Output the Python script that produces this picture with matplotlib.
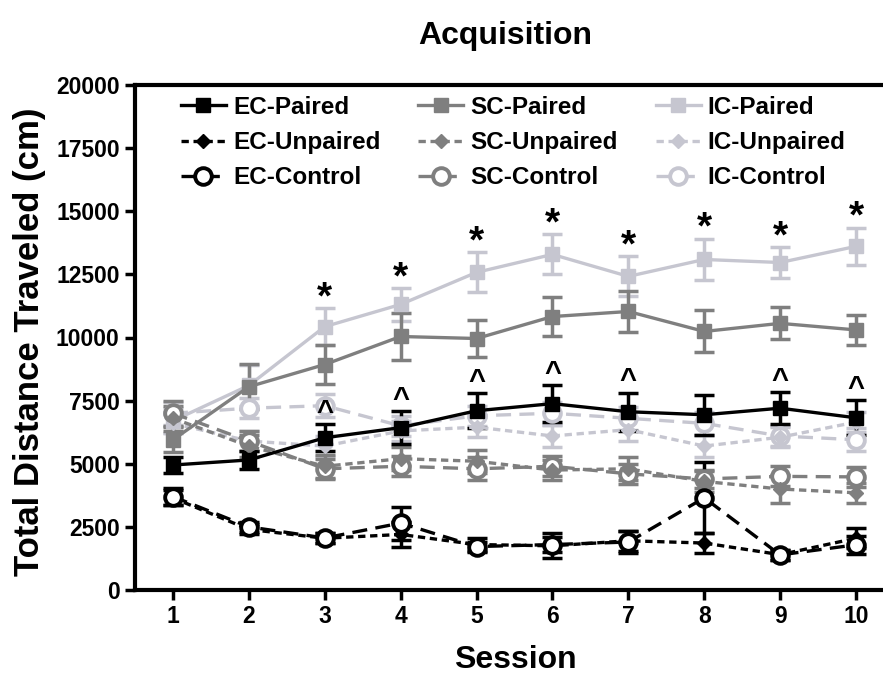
import matplotlib

matplotlib.use("Agg")
import matplotlib.pyplot as plt

plt.rcParams["font.family"] = ["Liberation Sans", "DejaVu Sans"]
plt.rcParams["font.weight"] = "bold"

sessions = [1, 2, 3, 4, 5, 6, 7, 8, 9, 10]

# means (cm) and SEM
ec_paired = [4950, 5150, 6030, 6430, 7100, 7380, 7060, 6940, 7200, 6820]
ec_paired_err = [300, 350, 530, 660, 690, 730, 760, 790, 630, 690]
ec_unpaired = [3650, 2400, 2050, 2200, 1800, 1750, 1950, 1860, 1400, 2050]
ec_unpaired_err = [300, 200, 200, 500, 250, 500, 400, 400, 200, 400]
ec_control = [3700, 2500, 2060, 2650, 1720, 1800, 1900, 3650, 1390, 1790]
ec_control_err = [350, 200, 200, 650, 200, 300, 450, 1400, 200, 350]

sc_paired = [5950, 8050, 8930, 10040, 9960, 10830, 11030, 10240, 10560, 10300]
sc_paired_err = [500, 890, 760, 930, 730, 790, 830, 830, 630, 600]
sc_unpaired = [6800, 5700, 4900, 5200, 5100, 4750, 4800, 4300, 4000, 3850]
sc_unpaired_err = [500, 450, 450, 450, 450, 400, 450, 400, 550, 400]
sc_control = [7000, 5900, 4800, 4900, 4800, 4900, 4600, 4400, 4500, 4480]
sc_control_err = [500, 400, 400, 400, 450, 400, 400, 350, 400, 400]

ic_paired = [6700, 8100, 10430, 11310, 12580, 13290, 12420, 13090, 12970, 13610]
ic_paired_err = [500, 800, 730, 640, 790, 790, 790, 830, 600, 730]
ic_unpaired = [6600, 5900, 5700, 6300, 6450, 6100, 6350, 5700, 6050, 6650]
ic_unpaired_err = [400, 400, 400, 400, 400, 450, 450, 450, 400, 400]
ic_control = [7000, 7200, 7300, 6500, 6900, 7000, 6800, 6600, 6100, 5950]
ic_control_err = [450, 400, 450, 400, 400, 450, 450, 450, 400, 450]

star_sessions = [3, 4, 5, 6, 7, 8, 9, 10]
caret_sessions = [3, 4, 5, 6, 7, 9, 10]

BLACK = "black"
MID = "#7f7f7f"
LIGHT = "#c6c6d0"

unpaired_ls = (0, (2.2, 1.4))
control_ls = (0, (4.5, 2.5))

fig = plt.figure(figsize=(8.83, 6.81), dpi=100)
ax = fig.add_axes([135 / 883, 91 / 681, 748 / 883, 505 / 681])

series = [
    # label, values, errors, colour, linestyle, marker, markersize, filled
    ("IC-Control", ic_control, ic_control_err, LIGHT, control_ls, "o", 12, False),
    ("IC-Unpaired", ic_unpaired, ic_unpaired_err, LIGHT, unpaired_ls, "D", 7, True),
    ("IC-Paired", ic_paired, ic_paired_err, LIGHT, "-", "s", 10, True),
    ("SC-Control", sc_control, sc_control_err, MID, control_ls, "o", 12, False),
    ("SC-Unpaired", sc_unpaired, sc_unpaired_err, MID, unpaired_ls, "D", 7, True),
    ("SC-Paired", sc_paired, sc_paired_err, MID, "-", "s", 10, True),
    ("EC-Unpaired", ec_unpaired, ec_unpaired_err, BLACK, unpaired_ls, "D", 7, True),
    ("EC-Paired", ec_paired, ec_paired_err, BLACK, "-", "s", 10, True),
    ("EC-Control", ec_control, ec_control_err, BLACK, control_ls, "o", 12, False),
]

handles = {}
for label, vals, errs, col, ls, mk, ms, filled in series:
    ax.errorbar(sessions, vals, yerr=errs, fmt="none", ecolor=col,
                elinewidth=2.5, capsize=7, capthick=2.5, zorder=2)
    (ln,) = ax.plot(sessions, vals, color=col, ls=ls, lw=2.4, marker=mk, ms=ms,
                    mfc=col if filled else "white", mec=col,
                    mew=2.8 if not filled else 1, zorder=3)
    handles[label] = ln

# significance marks
for s in star_sessions:
    i = sessions.index(s)
    ax.annotate("*", (s, ic_paired[i] + ic_paired_err[i]), xytext=(0, 0),
                textcoords="offset points", ha="center", va="baseline",
                fontsize=28, fontweight="bold")
for s in caret_sessions:
    i = sessions.index(s)
    ax.annotate("^", (s, ec_paired[i] + ec_paired_err[i]), xytext=(0, 3),
                textcoords="offset points", ha="center", va="baseline",
                fontsize=21, fontweight="bold")

ax.set_xlim(0.5, 10.355)
ax.set_ylim(0, 20000)
ax.set_xticks(sessions)
ax.set_yticks(range(0, 20001, 2500))
ax.tick_params(direction="out", length=7, width=2.5, labelsize=16.5, pad=4)
for lab in ax.get_xticklabels() + ax.get_yticklabels():
    lab.set_fontweight("bold")
ax.spines["right"].set_visible(False)
for side in ("left", "bottom", "top"):
    ax.spines[side].set_linewidth(3)

order = ["EC-Paired", "EC-Unpaired", "EC-Control",
         "SC-Paired", "SC-Unpaired", "SC-Control",
         "IC-Paired", "IC-Unpaired", "IC-Control"]
ax.legend([handles[k] for k in order], order, ncol=3, frameon=False,
          loc="upper left", bbox_to_anchor=(181 / 883, 1 - 96 / 681),
          bbox_transform=fig.transFigure, borderpad=0, borderaxespad=0,
          handlelength=1.85, handletextpad=0.3, columnspacing=1.55,
          labelspacing=0.5, prop={"size": 17.5, "weight": "bold"})

fig.text(505 / 883, 1 - 36 / 681, "Acquisition", ha="center", va="center",
         fontsize=23, fontweight="bold")
fig.text(515 / 883, 1 - 660 / 681, "Session", ha="center", va="center",
         fontsize=23, fontweight="bold")
fig.text(30 / 883, 1 - 342 / 681, "Total Distance Traveled (cm)", ha="center",
         va="center", rotation=90, fontsize=25, fontweight="bold")

fig.savefig("out.png", dpi=100)
